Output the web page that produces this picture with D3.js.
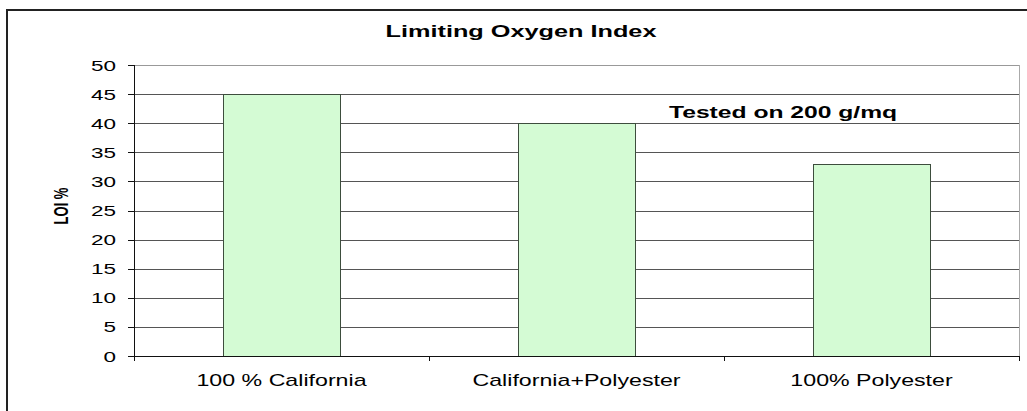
<!DOCTYPE html>
<head>
  <meta charset="utf-8" />
  <script src="https://d3js.org/d3.v7.min.js"></script>
  <style>
    body { margin: 0; background: #fff; }
    text { font-family: "Liberation Sans", Arial, sans-serif; fill: #000; }
  </style>
</head>
<body>
  <script>
    // donnees
    var categories = ["100 % California", "California+Polyester", "100% Polyester"];
    var loiValues = [45, 40, 33];
    var yTicks = [0, 5, 10, 15, 20, 25, 30, 35, 40, 45, 50];
    var chartTitle = "Limiting Oxygen Index";
    var yLabel = "LOI %";
    var note = "Tested on 200 g/mq";

    var width = 1027, height = 411;
    // attention : "top" est deja pris par window.top
    var plotLeft = 134, plotRight = 1019, plotTop = 65, plotBottom = 356;

    var svg = d3.select("body").append("svg")
      .attr("width", width)
      .attr("height", height);

    // cadre exterieur
    svg.append("rect")
      .attr("x", 7).attr("y", 10)
      .attr("width", 1060).attr("height", 440)
      .attr("fill", "none").attr("stroke", "#222").attr("stroke-width", 2);

    var x = d3.scaleBand()
      .domain(categories)
      .range([plotLeft, plotRight])
      .paddingInner(0.6)
      .paddingOuter(0.3);

    var y = d3.scaleLinear().domain([0, 50]).range([plotBottom, plotTop]);

    // le texte est etire horizontalement sur l'image d'origine
    function stretched(str, px, py, sx, anchor) {
      return svg.append("text")
        .attr("transform", "translate(" + px + "," + py + ") scale(" + sx + ",1)")
        .attr("text-anchor", anchor)
        .text(str);
    }

    // grille
    svg.append("g").selectAll("line")
      .data(yTicks.filter(d => d > 0))
      .join("line")
      .attr("x1", plotLeft).attr("x2", plotRight)
      .attr("y1", d => Math.round(y(d)) + 0.5).attr("y2", d => Math.round(y(d)) + 0.5)
      .attr("stroke", d => d == 50 ? "#999" : "#555");

    // bord droit
    svg.append("line")
      .attr("x1", plotRight + 0.5).attr("x2", plotRight + 0.5)
      .attr("y1", plotTop).attr("y2", plotBottom)
      .attr("stroke", "#aaa");

    // barres
    svg.append("g").selectAll("rect")
      .data(loiValues)
      .join("rect")
      .attr("x", (d, i) => Math.round(x(categories[i])) + 0.5)
      .attr("y", d => Math.round(y(d)) + 0.5)
      .attr("width", Math.round(x.bandwidth()) - 1)
      .attr("height", d => Math.round(y(0)) - Math.round(y(d)))
      .attr("fill", "#d4fbd4")
      .attr("stroke", "#3d4d3d");

    // axe y
    svg.append("line")
      .attr("x1", plotLeft + 0.5).attr("x2", plotLeft + 0.5)
      .attr("y1", plotTop).attr("y2", plotBottom + 4)
      .attr("stroke", "#111");
    svg.append("g").selectAll("line")
      .data(yTicks)
      .join("line")
      .attr("x1", plotLeft - 6).attr("x2", plotLeft)
      .attr("y1", d => Math.round(y(d)) + 0.5).attr("y2", d => Math.round(y(d)) + 0.5)
      .attr("stroke", "#111");
    yTicks.forEach(function (t) {
      stretched(t, 116, y(t) + 5.5, 1.5, "end").style("font-size", "15px");
    });

    // axe x
    svg.append("line")
      .attr("x1", plotLeft).attr("x2", plotRight + 1)
      .attr("y1", plotBottom + 0.5).attr("y2", plotBottom + 0.5)
      .attr("stroke", "#111");
    var bounds = [plotLeft].concat(categories.map(c => x(c) + x.bandwidth() + x.step() * 0.3));
    svg.append("g").selectAll("line")
      .data(bounds)
      .join("line")
      .attr("x1", d => Math.round(d) + 0.5).attr("x2", d => Math.round(d) + 0.5)
      .attr("y1", plotBottom).attr("y2", plotBottom + 5)
      .attr("stroke", "#111");
    categories.forEach(function (c) {
      stretched(c, x(c) + x.bandwidth() / 2, 386, 1.45, "middle").style("font-size", "16px");
    });

    // titres
    stretched(chartTitle, 521, 37, 1.58, "middle")
      .style("font-size", "16px").style("font-weight", "bold");
    stretched(note, 669, 118, 1.54, "start")
      .style("font-size", "16px").style("font-weight", "bold");

    svg.append("text")
      .attr("transform", "translate(68,206) scale(1.55,1) rotate(-90)")
      .attr("text-anchor", "middle")
      .style("font-size", "13px").style("font-weight", "bold")
      .text(yLabel);
  </script>
</body>
